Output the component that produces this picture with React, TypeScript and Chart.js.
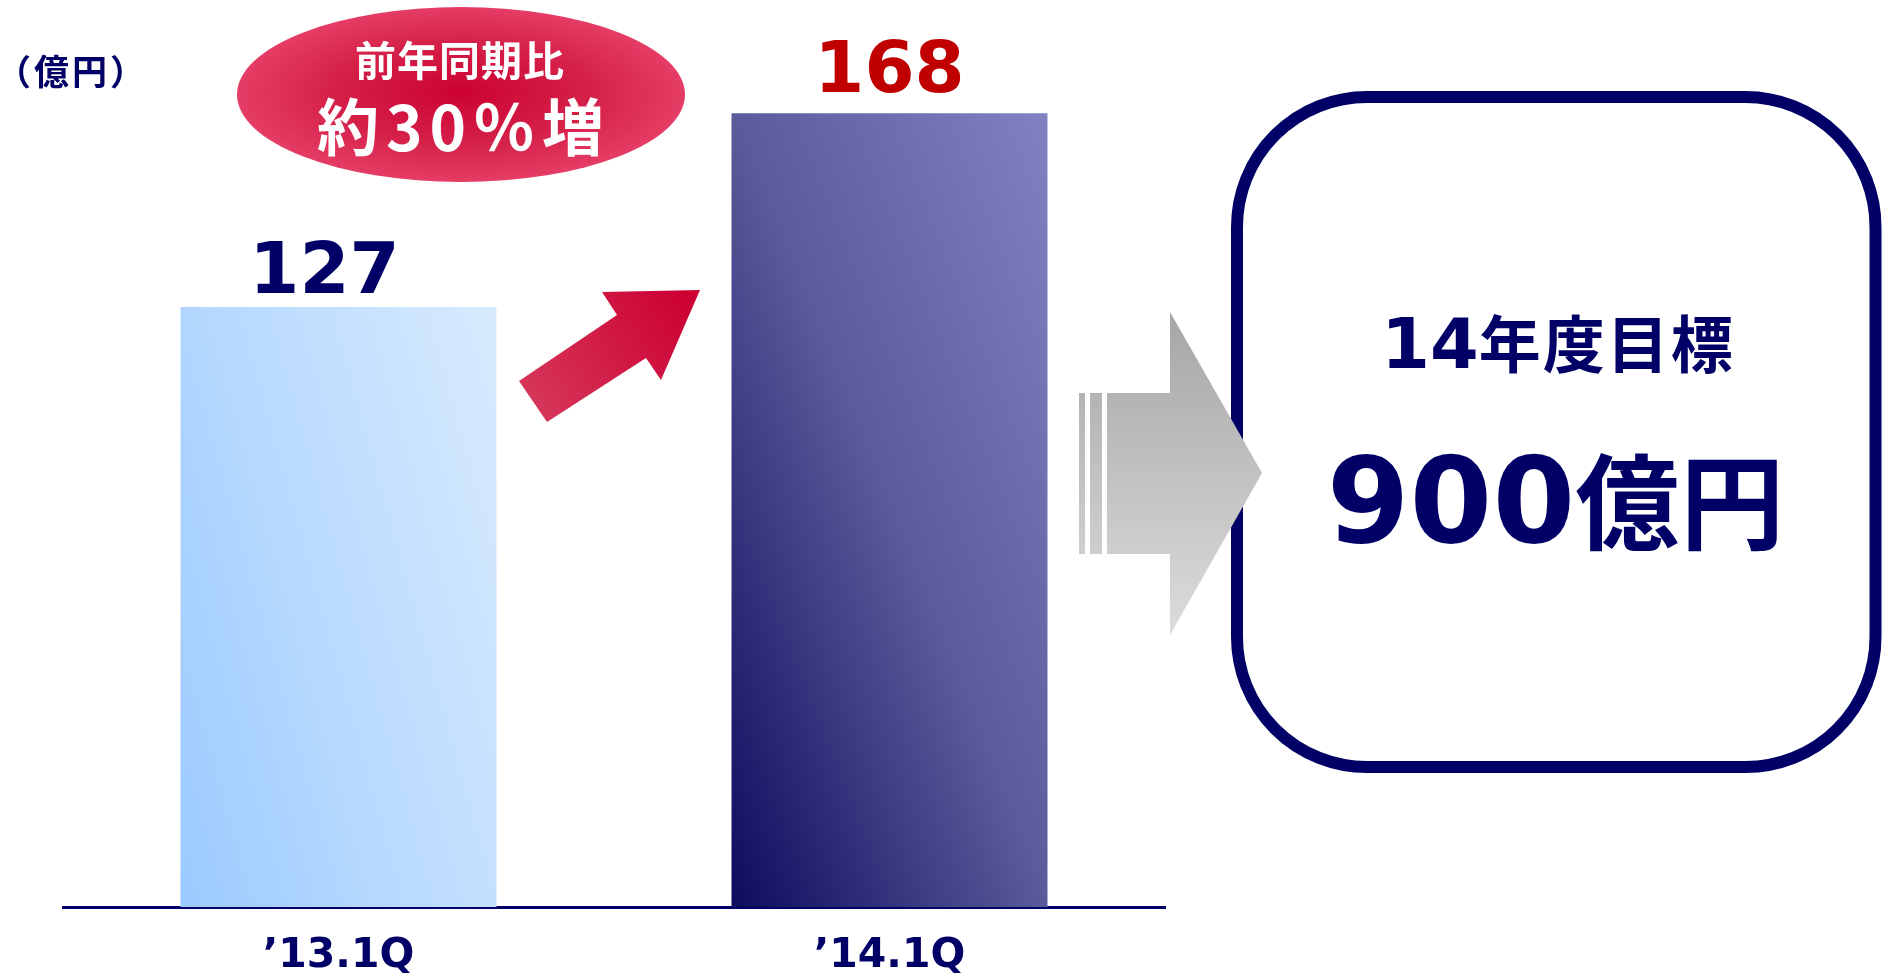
import React, { useEffect, useRef } from "react";
import { Chart, registerables } from "chart.js";

Chart.register(...registerables);

// ---------- data ----------
const categories = ["’13.1Q", "’14.1Q"];
const sales = [127, 168];
const yMin = 0;
const yMax = 180;
const unitLabel = "（億円）";
const badgeLine1 = "前年同期比";
const badgeLine2 = "約30％増";
const targetTitleNum = "14";
const targetTitleText = "年度目標";
const targetValueNum = "900";
const targetValueUnit = "億円";

// ---------- styles ----------
const NAVY = "#000066";
const valueLabelColors = [NAVY, "#C00000"];
const barGradientStops: [number, string][][] = [
  [
    [0, "#9BCAFF"],
    [0.5, "#BCDCFF"],
    [1, "#DAECFD"],
  ],
  [
    [0, "#0E0B5E"],
    [0.5, "#5B5A9A"],
    [1, "#8282C2"],
  ],
];
const barGradientVector = [
  [1.47, 0.41],
  [1.73, 0.69],
];
const BAR_PCT = 0.5735;
const CJK = "'Noto Sans CJK JP'";
const DIGITS = "'DejaVu Sans'";

function barBackground(c: any) {
  const chart = c.chart;
  const i = c.dataIndex ?? 0;
  const fallback = barGradientStops[i % 2][1][1];
  if (!chart.chartArea || c.type !== "data") return fallback;
  const xs = chart.scales.x;
  const ys = chart.scales.y;
  if (!xs || !ys) return fallback;
  const cx = xs.getPixelForValue(i);
  const w = (xs.width / categories.length) * BAR_PCT;
  const left = cx - w / 2;
  const base = ys.getPixelForValue(0);
  const [u, v] = barGradientVector[i % 2];
  const g = chart.ctx.createLinearGradient(left, base, left + u * w, base - v * w);
  barGradientStops[i % 2].forEach(([t, col]) => g.addColorStop(t, col));
  return g;
}

function drawParts(
  ctx: CanvasRenderingContext2D,
  parts: { text: string; font: string; ls: number }[],
  cx: number,
  baseline: number,
  color: string
) {
  const anyCtx = ctx as any;
  let total = 0;
  const widths = parts.map((p) => {
    ctx.font = p.font;
    anyCtx.letterSpacing = p.ls + "px";
    const w = ctx.measureText(p.text).width;
    total += w;
    return w;
  });
  let x = cx - total / 2;
  ctx.textAlign = "left";
  ctx.textBaseline = "alphabetic";
  ctx.fillStyle = color;
  parts.forEach((p, i) => {
    ctx.font = p.font;
    anyCtx.letterSpacing = p.ls + "px";
    ctx.fillText(p.text, x, baseline);
    x += widths[i];
  });
  anyCtx.letterSpacing = "0px";
}

const valueLabelPlugin = {
  id: "valueLabels",
  afterDatasetsDraw(chart: any) {
    const ctx = chart.ctx as CanvasRenderingContext2D;
    const meta = chart.getDatasetMeta(0);
    const dx = [-14, 0];
    const gap = [14, 21];
    ctx.save();
    meta.data.forEach((el: any, i: number) => {
      ctx.font = `bold 72px ${DIGITS}`;
      ctx.fillStyle = valueLabelColors[i];
      ctx.textAlign = "center";
      ctx.textBaseline = "alphabetic";
      ctx.fillText(String(sales[i]), el.x + dx[i], el.y - gap[i]);
    });
    ctx.restore();
  },
};

const decorationPlugin = {
  id: "decorations",
  afterDraw(chart: any) {
    const ctx = chart.ctx as CanvasRenderingContext2D;
    const anyCtx = ctx as any;
    ctx.save();

    // unit label
    ctx.font = `bold 35px ${CJK}`;
    anyCtx.letterSpacing = "3px";
    ctx.fillStyle = NAVY;
    ctx.textAlign = "left";
    ctx.textBaseline = "alphabetic";
    ctx.fillText(unitLabel, -4, 85);
    anyCtx.letterSpacing = "0px";

    // target box
    ctx.lineWidth = 12;
    ctx.strokeStyle = NAVY;
    ctx.beginPath();
    (ctx as any).roundRect(1237, 97, 638.5, 670, 130);
    ctx.stroke();

    // gray arrow
    const gg = ctx.createLinearGradient(0, 312, 0, 635);
    gg.addColorStop(0, "#A6A6A6");
    gg.addColorStop(1, "#DCDCDC");
    ctx.fillStyle = gg;
    ctx.fillRect(1079, 393, 6, 161);
    ctx.fillRect(1090, 393, 12, 161);
    ctx.beginPath();
    ctx.moveTo(1107, 393);
    ctx.lineTo(1170, 393);
    ctx.lineTo(1170, 312);
    ctx.lineTo(1262, 473);
    ctx.lineTo(1170, 635);
    ctx.lineTo(1170, 554);
    ctx.lineTo(1107, 554);
    ctx.closePath();
    ctx.fill();

    // red arrow
    const rg = ctx.createLinearGradient(533, 401, 690, 300);
    rg.addColorStop(0, "#D6355A");
    rg.addColorStop(1, "#CC0033");
    ctx.fillStyle = rg;
    ctx.beginPath();
    ctx.moveTo(519, 381);
    ctx.lineTo(617, 315);
    ctx.lineTo(602, 292);
    ctx.lineTo(700, 290);
    ctx.lineTo(661, 380);
    ctx.lineTo(646, 358);
    ctx.lineTo(547, 422);
    ctx.closePath();
    ctx.fill();

    // badge ellipse
    ctx.save();
    ctx.translate(461, 94.5);
    ctx.scale(1, 87.5 / 224);
    const eg = ctx.createRadialGradient(0, -8, 0, 0, 0, 224);
    eg.addColorStop(0, "#CC0233");
    eg.addColorStop(0.55, "#D41F48");
    eg.addColorStop(1, "#E53D65");
    ctx.fillStyle = eg;
    ctx.beginPath();
    ctx.arc(0, 0, 224, 0, Math.PI * 2);
    ctx.fill();
    ctx.restore();

    ctx.fillStyle = "#FFFFFF";
    ctx.textAlign = "center";
    ctx.textBaseline = "alphabetic";
    ctx.font = `bold 41px ${CJK}`;
    anyCtx.letterSpacing = "1px";
    ctx.fillText(badgeLine1, 460, 76);
    ctx.font = `bold 62px ${CJK}`;
    anyCtx.letterSpacing = "7px";
    ctx.fillText(badgeLine2, 464, 151);
    anyCtx.letterSpacing = "0px";

    // box texts
    drawParts(
      ctx,
      [
        { text: targetTitleNum, font: `bold 70px ${DIGITS}`, ls: 0 },
        { text: targetTitleText, font: `bold 62px ${CJK}`, ls: 2 },
      ],
      1558,
      368,
      NAVY
    );
    drawParts(
      ctx,
      [
        { text: targetValueNum, font: `bold 119px ${DIGITS}`, ls: 0 },
        { text: targetValueUnit, font: `bold 104px ${CJK}`, ls: 1 },
      ],
      1556,
      542,
      NAVY
    );

    ctx.restore();
  },
};

export default function App() {
  const canvasRef = useRef<HTMLCanvasElement | null>(null);

  useEffect(() => {
    const canvas = canvasRef.current;
    if (!canvas) return;
    const chart = new Chart(canvas, {
      type: "bar",
      data: {
        labels: categories,
        datasets: [
          {
            data: sales,
            backgroundColor: barBackground as any,
            borderWidth: 0,
            barPercentage: BAR_PCT,
            categoryPercentage: 1,
          },
        ],
      },
      options: {
        responsive: false,
        animation: false,
        devicePixelRatio: 1,
        layout: { padding: { left: 63, right: 724, top: 56.5, bottom: 0 } },
        plugins: {
          legend: { display: false },
          tooltip: { enabled: false },
        },
        scales: {
          x: {
            z: 1,
            grid: { display: false, drawTicks: false },
            border: { display: true, color: NAVY, width: 3 },
            ticks: {
              color: NAVY,
              padding: 25,
              font: { family: "'DejaVu Sans'", size: 41, weight: "bold" },
            },
            afterFit: (scale: any) => {
              scale.height = 69;
            },
          },
          y: {
            display: false,
            min: yMin,
            max: yMax,
          },
        },
      } as any,
      plugins: [valueLabelPlugin, decorationPlugin],
    });
    return () => chart.destroy();
  }, []);

  return (
    <div
      style={{
        position: "absolute",
        left: 0,
        top: 0,
        width: 1889,
        height: 976,
        background: "#FFFFFF",
      }}
    >
      <canvas ref={canvasRef} width={1889} height={976} />
    </div>
  );
}
